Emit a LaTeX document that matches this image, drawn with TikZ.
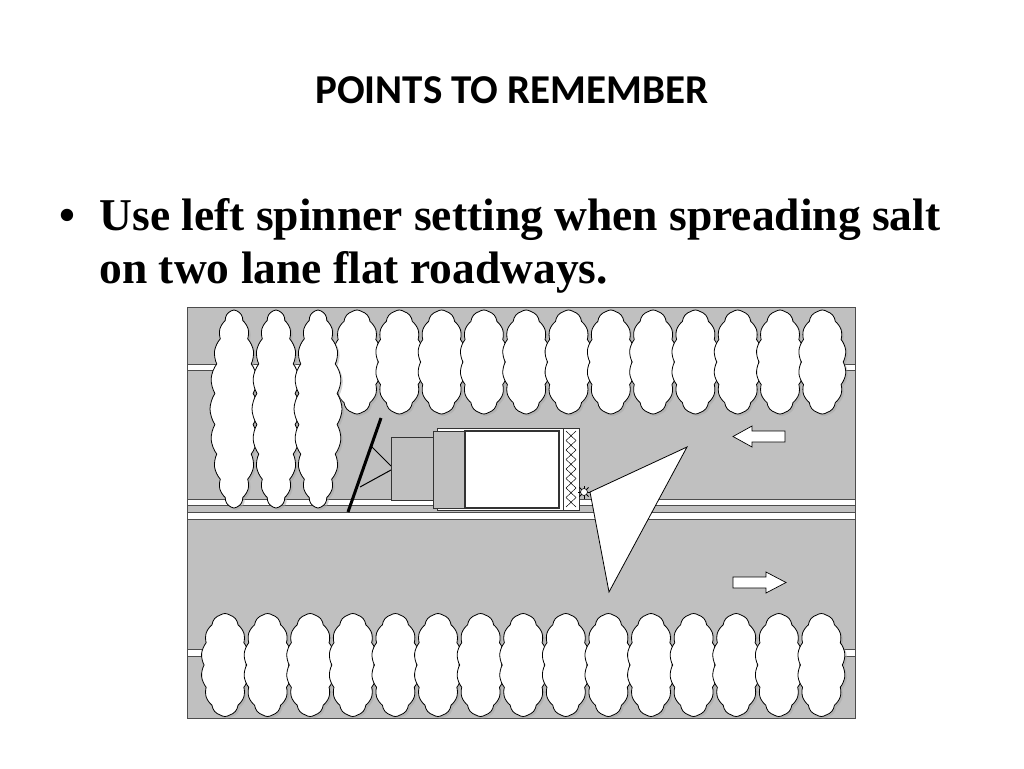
\documentclass[tikz,border=0pt]{standalone}
\usepackage{fontspec}
\setmainfont{Liberation Serif}
\newfontfamily\titlefont{Carlito}
\usetikzlibrary{shapes.symbols,shadows}
\definecolor{road}{HTML}{C0C0C0}
\tikzset{
 tree/.style={cloud,cloud puffs=#1,cloud puff arc=70,cloud ignores aspect,draw,fill=white,line width=0.8pt,inner sep=0pt,drop shadow={shadow xshift=2pt,shadow yshift=-2pt,fill=gray!70}},
 stripe/.style={fill=white,draw=black!70,line width=0.6pt},
 part/.style={draw=black!80,line width=0.8pt},
 lanearrow/.style={draw,fill=white,line width=0.7pt}
}
\begin{document}
\begin{tikzpicture}[x=1pt,y=-1pt]
\useasboundingbox (0,0) rectangle (1024,768);
\node[font=\titlefont\bfseries\fontsize{41}{48}\selectfont] (title) at (512,90) {POINTS TO REMEMBER};
\node[anchor=base west,font=\bfseries\fontsize{45.5}{54}\selectfont] (b1) at (56,230) {\textbullet};
\node[anchor=base west,font=\bfseries\fontsize{45.5}{54}\selectfont] (l1) at (96,230) {Use left spinner setting when spreading salt};
\node[anchor=base west,font=\bfseries\fontsize{45.5}{54}\selectfont] (l2) at (96,283) {on two lane flat roadways.};
% road
\draw[fill=road,draw=black!70,line width=0.8pt] (187,307) rectangle (855,718);
\draw[stripe] (187,364) rectangle (855,370);
\draw[stripe] (187,499) rectangle (855,505);
\draw[stripe] (187,512) rectangle (855,519);
\draw[stripe] (187,649) rectangle (855,656);
% top trees
\foreach \i in {0,...,11} \node[tree=14,minimum width=48pt,minimum height=104pt] (t\i) at ({357+\i*42.3},362) {};
\foreach \i in {0,1,2} \node[tree=20,minimum width=48pt,minimum height=198pt] (u\i) at ({234+\i*42},409) {};
% bottom trees
\foreach \i in {0,...,14} \node[tree=14,minimum width=48pt,minimum height=103pt] (w\i) at ({225+\i*42.6},665) {};
% truck
\draw[line width=3pt] (348,512) -- (381,418);
\draw[line width=1pt] (372,447) -- (391,466) (360,487) -- (391,470);
\draw[part,fill=road] (391,437) rectangle (433,500);
\draw[part,fill=white] (437,428) rectangle (563,510);
\draw[part,fill=road] (433,431) rectangle (465,508);
\draw[part,fill=white,line width=1.2pt] (465,431) rectangle (559,508);
\draw[part,fill=white] (563,428) rectangle (579,510);
\foreach \k in {0,...,7} \draw[line width=0.5pt] (566,{431+\k*9.5}) -- (576,{440.5+\k*9.5}) (576,{431+\k*9.5}) -- (566,{440.5+\k*9.5});
\foreach \a in {0,45,...,315} \draw[line width=0.8pt] (584,492) -- ++(\a:6.5);
\node[circle,draw,fill=white,line width=0.6pt,minimum size=7pt,inner sep=0pt] (spin) at (584,492) {};
\draw[fill=white,line width=0.8pt] (590,492) -- (687,447) -- (609,592) -- cycle;
% arrows
\draw[lanearrow] (785,431) -- (752,431) -- (752,426) -- (733,436.5) -- (752,447) -- (752,442) -- (785,442) -- cycle;
\draw[lanearrow] (733,577) -- (766,577) -- (766,572) -- (786,582.5) -- (766,593) -- (766,588) -- (733,588) -- cycle;
\end{tikzpicture}
\end{document}
